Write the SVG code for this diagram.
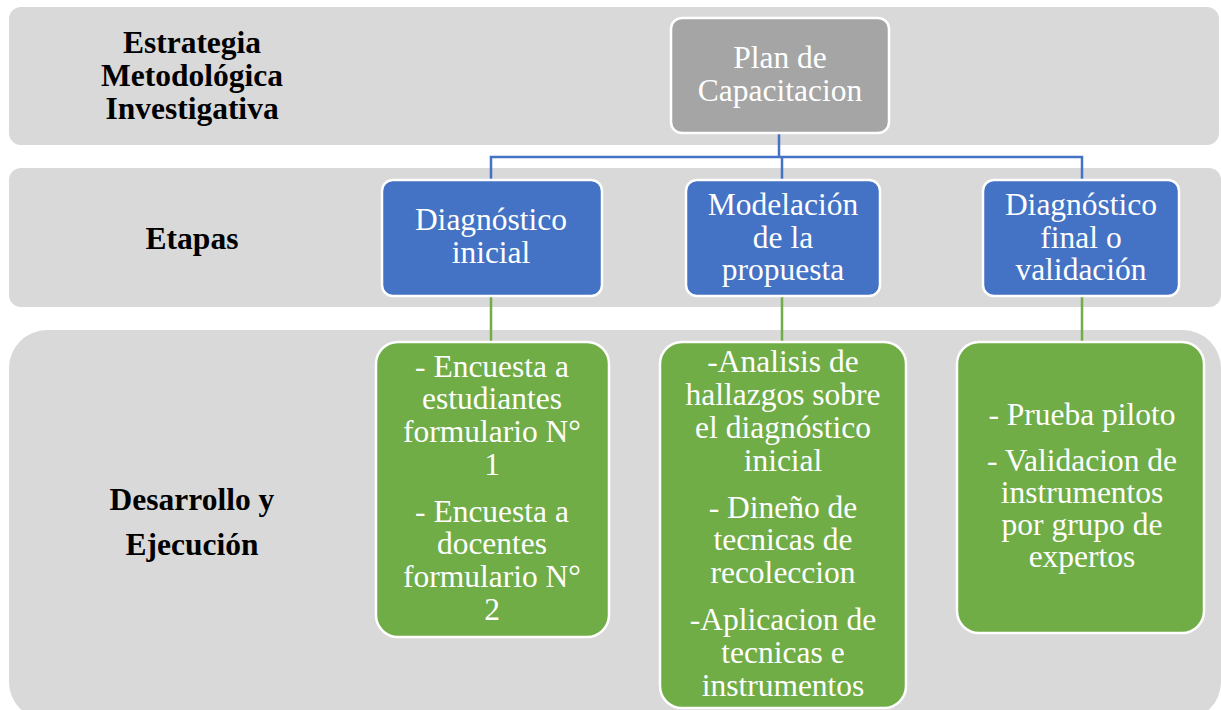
<svg xmlns="http://www.w3.org/2000/svg" width="1221" height="710" viewBox="0 0 1221 710">
<style>
.band{fill:#D9D9D9}
.lbl{font-family:'Liberation Serif','Times New Roman',serif;font-weight:bold;font-size:31.5px;fill:#000;text-anchor:middle}
.nt{font-family:'Liberation Serif','Times New Roman',serif;font-size:31.5px;fill:#fff;text-anchor:middle}
.gray{fill:#A5A5A5;stroke:#fff;stroke-width:2.5}
.blue{fill:#4472C4;stroke:#fff;stroke-width:2.5}
.green{fill:#70AD47;stroke:#fff;stroke-width:2.5}
.cb{fill:none;stroke:#4472C4;stroke-width:2.5}
.cg{fill:none;stroke:#70AD47;stroke-width:2.5}
</style>
<rect width="1221" height="710" fill="#fff"/>
<g id="bands">
<rect class="band" x="9" y="7" width="1210" height="138" rx="12"/>
<rect class="band" x="9" y="168" width="1212" height="139" rx="12"/>
<rect class="band" x="9" y="330" width="1212" height="390" rx="38"/>
</g>
<g id="labels">
<text class="lbl" x="192" y="53">Estrategia</text>
<text class="lbl" x="192" y="86">Metodológica</text>
<text class="lbl" x="192" y="119">Investigativa</text>
<text class="lbl" x="192" y="249">Etapas</text>
<text class="lbl" x="192" y="510">Desarrollo y</text>
<text class="lbl" x="192" y="555">Ejecución</text>
</g>
<g id="connectors">
<path class="cb" d="M779 133 V156 M491 180 V157 H1082 V180 M782 157 V180"/>
<path class="cg" d="M491 296 V343 M782 296 V343 M1082 296 V343"/>
</g>
<g id="n-plan">
<rect class="gray" x="671" y="18" width="218" height="115" rx="11"/>
<text class="nt" x="780" y="68">Plan de</text>
<text class="nt" x="780" y="101">Capacitacion</text>
</g>
<g id="n-diag-ini">
<rect class="blue" x="382" y="180" width="220" height="116" rx="11"/>
<text class="nt" x="491" y="230">Diagnóstico</text>
<text class="nt" x="491" y="263">inicial</text>
</g>
<g id="n-model">
<rect class="blue" x="686" y="180" width="194" height="116" rx="11"/>
<text class="nt" x="783" y="215">Modelación</text>
<text class="nt" x="783" y="248">de la</text>
<text class="nt" x="783" y="280">propuesta</text>
</g>
<g id="n-diag-fin">
<rect class="blue" x="983" y="180" width="196" height="116" rx="11"/>
<text class="nt" x="1081" y="215">Diagnóstico</text>
<text class="nt" x="1081" y="248">final o</text>
<text class="nt" x="1081" y="280">validación</text>
</g>
<g id="n-encuestas">
<rect class="green" x="376" y="342" width="233" height="295" rx="22"/>
<text class="nt" x="492" y="377">- Encuesta a</text>
<text class="nt" x="492" y="409">estudiantes</text>
<text class="nt" x="492" y="442">formulario N°</text>
<text class="nt" x="492" y="475">1</text>
<text class="nt" x="492" y="522">- Encuesta a</text>
<text class="nt" x="492" y="554">docentes</text>
<text class="nt" x="492" y="587">formulario N°</text>
<text class="nt" x="492" y="620">2</text>
</g>
<g id="n-analisis">
<rect class="green" x="660" y="342" width="246" height="366" rx="22"/>
<text class="nt" x="783" y="372">-Analisis de</text>
<text class="nt" x="783" y="405">hallazgos sobre</text>
<text class="nt" x="783" y="438">el diagnóstico</text>
<text class="nt" x="783" y="471">inicial</text>
<text class="nt" x="783" y="518">- Dineño de</text>
<text class="nt" x="783" y="550">tecnicas de</text>
<text class="nt" x="783" y="583">recoleccion</text>
<text class="nt" x="783" y="630">-Aplicacion de</text>
<text class="nt" x="783" y="663">tecnicas e</text>
<text class="nt" x="783" y="696">instrumentos</text>
</g>
<g id="n-prueba">
<rect class="green" x="957" y="342" width="247" height="291" rx="22"/>
<text class="nt" x="1082" y="425">- Prueba piloto</text>
<text class="nt" x="1082" y="471">- Validacion de</text>
<text class="nt" x="1082" y="503">instrumentos</text>
<text class="nt" x="1082" y="535">por grupo de</text>
<text class="nt" x="1082" y="567">expertos</text>
</g>
</svg>
